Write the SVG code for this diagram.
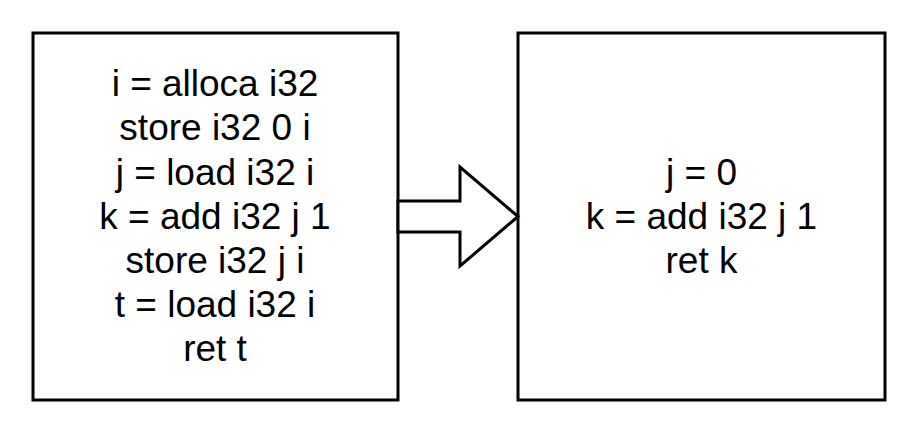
<svg xmlns="http://www.w3.org/2000/svg" width="920" height="436" viewBox="0 0 920 436">
<style>
.box{fill:#fff;stroke:#000;stroke-width:3}
.t{font-family:"Liberation Sans",Arial,sans-serif;font-size:37px;fill:#000;text-anchor:middle}
.arr{fill:#fff;stroke:#000;stroke-width:3;stroke-linejoin:miter}
</style>
<rect width="920" height="436" fill="#fff"/>
<g id="node-before">
<rect class="box" x="33" y="33" width="365" height="367"/>
<text class="t" x="215" y="96">i = alloca i32</text>
<text class="t" x="215" y="140">store i32 0 i</text>
<text class="t" x="215" y="184.5">j = load i32 i</text>
<text class="t" x="215" y="229">k = add i32 j 1</text>
<text class="t" x="215" y="273">store i32 j i</text>
<text class="t" x="215" y="317">t = load i32 i</text>
<text class="t" x="215" y="361">ret t</text>
</g>
<g id="node-after">
<rect class="box" x="518" y="33" width="367" height="367"/>
<text class="t" x="701.5" y="185">j = 0</text>
<text class="t" x="701.5" y="229">k = add i32 j 1</text>
<text class="t" x="701.5" y="273">ret k</text>
</g>
<g id="connectors">
<polygon class="arr" points="398,201 460,201 460,167 518,216.5 460,266 460,232 398,232"/>
</g>
</svg>
